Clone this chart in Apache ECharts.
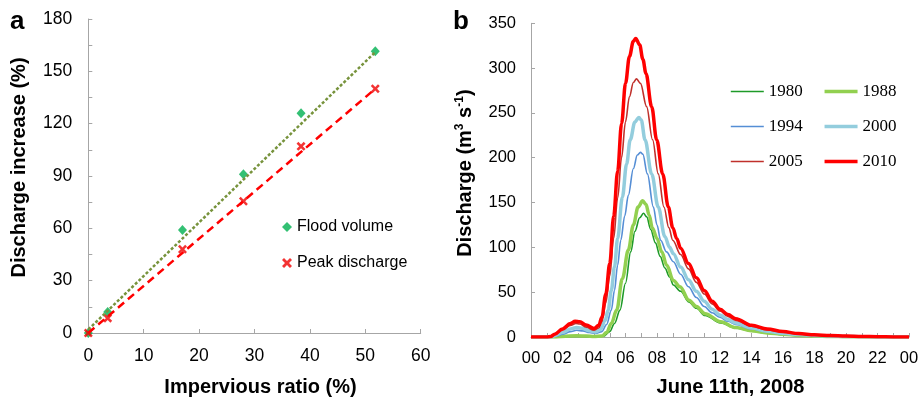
<!DOCTYPE html>
<html><head><meta charset="utf-8">
<script src="https://cdn.jsdelivr.net/npm/echarts@6/dist/echarts.min.js"></script>
<style>html,body{margin:0;padding:0;background:#fff}#c{width:924px;height:404px}</style>
</head><body><div id="c"></div>
<script>
// Panel a
const imperviousRatio = [0, 3.5, 17, 28, 38.4, 51.8];
const floodVolume = [0, 12, 59, 91, 126, 161.5];
const peakDischarge = [0, 8.5, 48, 75.5, 107, 140];
const floodTrend = [[0, 2], [51.8, 161]];
const peakTrend = [[0, 0], [51.8, 140]];

// Panel b: [hour, discharge]
const q1980 = [[0,0],[2,0],[2.9,0.5],[4,0],[4.6,1],[5,6],[5.3,15],[5.65,30],[6,60],[6.33,95],[6.6,118],[6.9,133],[7.14,138],[7.35,134],[7.6,120],[7.9,105],[8.2,90],[8.5,77],[8.8,67],[9.04,58],[9.5,51],[10.03,39],[10.5,32],[11.05,24],[12.04,15.7],[13,10],[14,6.5],[15,4.2],[16,2.7],[17,1.6],[18,1],[19,0.5],[20,0.3],[21,0.1],[22,0],[24,0]];
const q1988 = [[0,0],[1.5,0],[2,0.5],[2.9,1.5],[3.5,1],[4,0.5],[4.5,1],[4.8,5],[5.1,15],[5.44,30],[5.8,65],[6.18,97],[6.5,125],[6.8,145],[7.09,152],[7.3,148],[7.5,136],[7.7,122],[8,110],[8.3,95],[8.62,80],[9.04,63],[9.46,56],[10.03,41],[10.5,34],[11.05,26],[12.04,17],[13,10.5],[14,7],[15,4.5],[16,3],[17,1.8],[18,1.1],[19,0.6],[20,0.3],[21,0.15],[22,0.05],[24,0]];
const q1994 = [[0,0],[1.3,0],[1.6,1],[2,3],[2.5,6],[2.9,7.5],[3.3,6.8],[3.7,5],[4.1,4],[4.5,6],[4.8,14],[5.1,30],[5.3,52],[5.5,80],[5.7,108],[5.95,135],[6.18,158],[6.5,188],[6.75,203],[6.95,206],[7.1,204],[7.39,182],[7.77,145],[8,125],[8.23,108],[8.6,95],[9.04,84],[9.5,70],[10,56],[10.5,44],[11,34],[11.5,27],[12,22],[12.5,17.5],[13,14],[14,9],[15,5.8],[16,3.7],[17,2.3],[18,1.4],[19,0.9],[20,0.5],[21,0.3],[22,0.1],[24,0]];
const q2000 = [[0,0],[1.25,0],[1.5,1.5],[2,5],[2.5,9],[2.9,10.5],[3.3,9.5],[3.7,7],[4.1,5.6],[4.4,8],[4.7,18],[4.9,30],[5.1,52],[5.3,78],[5.5,110],[5.8,156],[6.07,193],[6.3,220],[6.6,240],[6.85,245],[7,242],[7.24,220],[7.66,182],[8.08,145],[8.5,112],[8.8,100],[9.04,93],[9.5,78],[10,64],[10.5,51],[11,40],[11.5,31],[12,24.5],[12.5,19.5],[13,15.6],[14,10],[15,6.5],[16,4.2],[17,2.7],[18,1.7],[19,1.1],[20,0.6],[21,0.3],[22,0.1],[24,0]];
const q2005 = [[0,0],[1,0],[1.25,0.4],[1.5,2.5],[2,8],[2.5,13],[2.85,15],[3.1,14.5],[3.5,11],[4,7.5],[4.3,10],[4.5,17],[4.75,38],[5,68],[5.25,110],[5.5,155],[5.75,200],[6,240],[6.25,268],[6.5,284],[6.7,288],[6.95,283],[7.34,257],[7.72,220],[8.08,182],[8.44,145],[8.75,122],[9,108],[9.5,92],[10,76],[10.5,61],[11,48],[11.5,37],[12,29],[12.5,23],[13,18.6],[14,12],[15,8],[16,5.3],[17,3.4],[18,2.2],[19,1.4],[20,0.9],[21,0.5],[22,0.2],[23,0.1],[24,0]];
const q2010 = [[0,0],[1,0],[1.25,0.5],[1.5,3],[2,9],[2.5,15],[2.8,17.5],[3.1,17],[3.5,13.5],[4,9.5],[4.3,13],[4.5,22],[4.75,48],[5,82],[5.25,135],[5.5,185],[5.75,238],[6,283],[6.25,313],[6.5,330],[6.65,333],[6.9,326],[7.1,310],[7.3,294],[7.66,257],[7.98,220],[8.36,182],[8.72,145],[9,122],[9.25,110],[9.5,99],[10,82],[10.5,66],[11,52],[11.5,40],[12,31],[12.5,25],[13,20.5],[14,13],[15,9],[16,6],[17,3.8],[18,2.5],[19,1.6],[20,1],[21,0.6],[22,0.3],[23,0.1],[24,0]];
const years = ['1980', '1988', '1994', '2000', '2005', '2010'];
const hourLabels = ['00','02','04','06','08','10','12','14','16','18','20','22','00'];

const SANS = 'Liberation Sans';
const SERIF = 'Liberation Serif';
const AX = '#A6A6A6';
const xMark = 'path://M0,2 L2,0 L5,3 L8,0 L10,2 L7,5 L10,8 L8,10 L5,7 L2,10 L0,8 L3,5 Z';

function axisCommon(extra) {
  return Object.assign({
    type: 'value',
    axisLine: {show: true, onZero: false, lineStyle: {color: AX, width: 1}},
    axisTick: {show: true, inside: true, length: 4, lineStyle: {color: AX}},
    splitLine: {show: false},
    nameLocation: 'middle',
    nameMoveOverlap: false
  }, extra);
}
const titleStyle = {fontFamily: SANS, fontWeight: 'bold', fontSize: 20, color: '#000'};

const yearStyle = {
  '1980': {color: '#1E9A28', width: 1.6},
  '1988': {color: '#92D050', width: 3.5},
  '1994': {color: '#558ED5', width: 1.6},
  '2000': {color: '#93CDDD', width: 3.5},
  '2005': {color: '#C0302B', width: 1.6},
  '2010': {color: '#FF0000', width: 3.5}
};
const yearData = {'1980': q1980, '1988': q1988, '1994': q1994, '2000': q2000, '2005': q2005, '2010': q2010};

const series = [
  {type: 'line', xAxisIndex: 0, yAxisIndex: 0, data: floodTrend, symbol: 'none', silent: true,
   lineStyle: {color: '#77933C', width: 2.5, type: [3, 2]}},
  {type: 'line', xAxisIndex: 0, yAxisIndex: 0, data: peakTrend, symbol: 'none', silent: true,
   lineStyle: {color: '#FF0000', width: 2.5, type: [8, 5]}},
  {name: 'Flood volume', type: 'scatter', xAxisIndex: 0, yAxisIndex: 0,
   data: imperviousRatio.map((x, i) => [x, floodVolume[i]]),
   symbol: 'diamond', symbolSize: [9, 10], itemStyle: {color: '#00B050'}},
  {name: 'Peak discharge', type: 'scatter', xAxisIndex: 0, yAxisIndex: 0,
   data: imperviousRatio.map((x, i) => [x, peakDischarge[i]]),
   symbol: xMark, symbolSize: 9, itemStyle: {color: '#F00000'}}
];
years.forEach(y => {
  series.push({name: y, type: 'line', xAxisIndex: 1, yAxisIndex: 1, data: yearData[y],
    symbol: 'none', smooth: 0.35, smoothMonotone: 'x',
    lineStyle: {color: yearStyle[y].color, width: yearStyle[y].width},
    itemStyle: {color: yearStyle[y].color}});
});

function yearLegend(names, top) {
  return {data: names.map(n => ({name: n, lineStyle: {width: yearStyle[n].width, color: yearStyle[n].color}})),
    left: 730, top: top, orient: 'horizontal', padding: 0,
    itemWidth: 33, itemHeight: 14, itemGap: 20, itemTextGap: 3,
    itemStyle: {opacity: 0},
    textStyle: {fontFamily: SERIF, fontSize: 17, color: '#000'}, selectedMode: false};
}

const option = {
  animation: false,
  backgroundColor: '#fff',
  title: [
    {text: 'a', left: 10, top: 9, padding: 0, textStyle: {fontFamily: SANS, fontWeight: 'bold', fontSize: 26, color: '#000'}},
    {text: 'b', left: 453, top: 9, padding: 0, textStyle: {fontFamily: SANS, fontWeight: 'bold', fontSize: 26, color: '#000'}}
  ],
  grid: [
    {left: 88.3, top: 19, width: 332.4, height: 314, containLabel: false, outerBoundsMode: 'none'},
    {left: 531, top: 23.3, width: 378, height: 313.7, containLabel: false, outerBoundsMode: 'none'}
  ],
  xAxis: [
    axisCommon({gridIndex: 0, min: 0, max: 60, interval: 10,
      axisLabel: {margin: 14.5, fontFamily: SANS, fontSize: 17.5, color: '#000'},
      name: 'Impervious ratio (%)', nameGap: 44,
      nameTextStyle: Object.assign({padding: [0, 0, 0, 12]}, titleStyle)}),
    axisCommon({gridIndex: 1, min: 0, max: 24, interval: 2,
      minorTick: {show: true, splitNumber: 2, length: 4, lineStyle: {color: AX}},
      axisLabel: {margin: 13.4, fontFamily: SANS, fontSize: 16.5, color: '#000',
        formatter: v => hourLabels[Math.round(v / 2)]},
      name: 'June 11th, 2008', nameGap: 40,
      nameTextStyle: Object.assign({padding: [0, 0, 0, 21]}, titleStyle)})
  ],
  yAxis: [
    axisCommon({gridIndex: 0, min: 0, max: 180, interval: 30,
      minorTick: {show: true, splitNumber: 2, length: 4, lineStyle: {color: AX}},
      axisLabel: {margin: 16, fontFamily: SANS, fontSize: 17.5, color: '#000'},
      name: 'Discharge increase (%)', nameGap: 59, nameRotate: 90,
      nameTextStyle: Object.assign({padding: [0, 0, 0, 17]}, titleStyle)}),
    axisCommon({gridIndex: 1, min: 0, max: 350, interval: 50,
      axisLabel: {margin: 15, fontFamily: SANS, fontSize: 16.5, color: '#000'},
      name: '{t|Discharge (m}{s|3}{t| s}{s|-1}{t|)}', nameGap: 55, nameRotate: 90,
      nameTextStyle: {padding: [0, 0, 0, 14], rich: {
        t: {fontFamily: SANS, fontWeight: 'bold', fontSize: 20, color: '#000', lineHeight: 22},
        s: {fontFamily: SANS, fontWeight: 'bold', fontSize: 12, color: '#000', verticalAlign: 'top', lineHeight: 22}
      }}})
  ],
  legend: [
    {data: ['Flood volume'], left: 282, top: 219, padding: 0, itemWidth: 10, itemHeight: 10, itemTextGap: 3,
      textStyle: {fontFamily: SANS, fontSize: 16, color: '#000'}, selectedMode: false},
    {data: ['Peak discharge'], left: 282, top: 255, padding: 0, itemWidth: 10, itemHeight: 10, itemTextGap: 3,
      textStyle: {fontFamily: SANS, fontSize: 16, color: '#000'}, selectedMode: false},
    yearLegend(['1980', '1988'], 83),
    yearLegend(['1994', '2000'], 118),
    yearLegend(['2005', '2010'], 153)
  ],
  series: series
};
const chart = echarts.init(document.getElementById('c'), null, {renderer: 'canvas'});
chart.setOption(option);
</script></body></html>
